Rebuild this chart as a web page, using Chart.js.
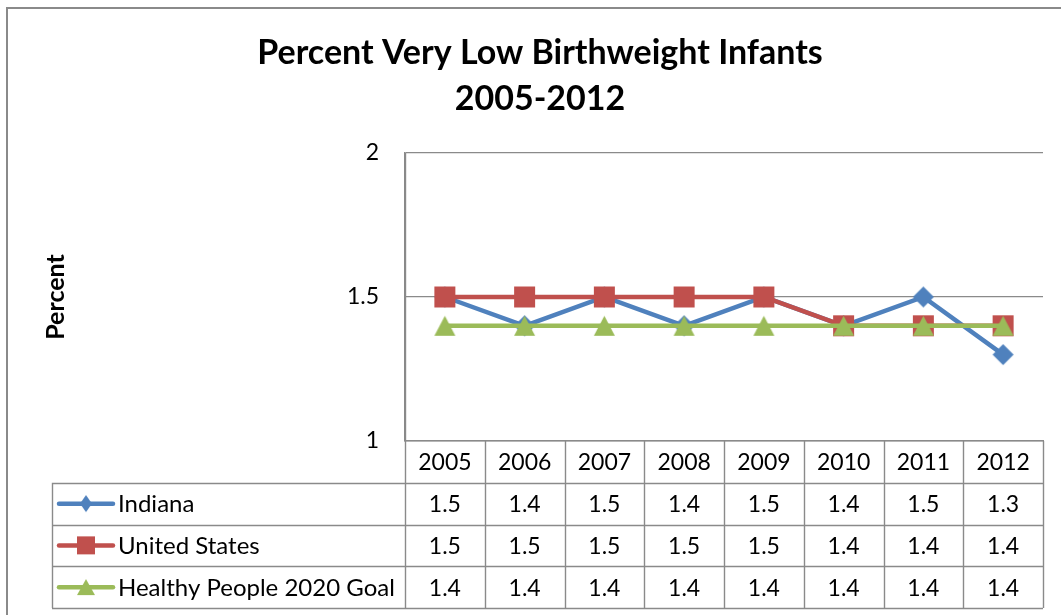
<!DOCTYPE html>
<html>
<head>
<meta charset="utf-8">
<script src="https://cdn.jsdelivr.net/npm/chart.js@4/dist/chart.umd.min.js"></script>
<style>
  html, body { margin: 0; padding: 0; background: #fff; overflow: hidden; }
  #wrap { position: relative; width: 1061px; height: 615px; }
</style>
</head>
<body>
<div id="wrap"><canvas id="c" width="1061" height="615"></canvas></div>
<script>
// Chart data
const years = ['2005', '2006', '2007', '2008', '2009', '2010', '2011', '2012'];
const indiana = [1.5, 1.4, 1.5, 1.4, 1.5, 1.4, 1.5, 1.3];
const unitedStates = [1.5, 1.5, 1.5, 1.5, 1.5, 1.4, 1.4, 1.4];
const healthyPeopleGoal = [1.4, 1.4, 1.4, 1.4, 1.4, 1.4, 1.4, 1.4];
const seriesNames = ['Indiana', 'United States', 'Healthy People 2020 Goal'];
const yTickValues = [1, 1.5, 2];
const titleLines = ['Percent Very Low Birthweight Infants', '2005-2012'];
const yAxisTitle = 'Percent';

const FONT = 'Lato, "Open Sans", sans-serif';
const GRID = '#8a8a8a';
const BLUE = '#4F81BD', RED = '#C0504D', GREEN = '#9BBB59';

Chart.defaults.font.family = FONT;
Chart.defaults.color = '#000';

// Marker sprites: shapes centred in their own box
function sprite(kind, w, h, color) {
  const c = document.createElement('canvas');
  c.width = Math.ceil(w) + 2;
  c.height = Math.ceil(h) + 2;
  const g = c.getContext('2d');
  const cx = c.width / 2, cy = c.height / 2;
  g.fillStyle = color;
  g.beginPath();
  if (kind === 'diamond') {
    g.moveTo(cx, cy - h / 2); g.lineTo(cx + w / 2, cy);
    g.lineTo(cx, cy + h / 2); g.lineTo(cx - w / 2, cy);
  } else if (kind === 'square') {
    g.rect(cx - w / 2, cy - h / 2, w, h);
  } else {
    g.moveTo(cx, cy - h / 2); g.lineTo(cx + w / 2, cy + h / 2);
    g.lineTo(cx - w / 2, cy + h / 2);
  }
  g.closePath();
  g.fill();
  return c;
}

const series = [indiana, unitedStates, healthyPeopleGoal];
const colors = [BLUE, RED, GREEN];
const plotMarkers = [
  sprite('diamond', 21, 21, BLUE),
  sprite('square', 21, 21, RED),
  sprite('triangle', 21, 20, GREEN)
];
const keyMarkers = [
  sprite('diamond', 12, 17, BLUE),
  sprite('square', 18, 18, RED),
  sprite('triangle', 18, 16, GREEN)
];

// Outer frame of the chart object
const framePlugin = {
  id: 'frame',
  beforeDraw(chart) {
    const ctx = chart.ctx;
    ctx.save();
    ctx.fillStyle = '#fff';
    ctx.fillRect(0, 0, chart.width, chart.height);
    ctx.strokeStyle = GRID;
    ctx.lineWidth = 2;
    ctx.strokeRect(7, 8, chart.width + 20, chart.height + 20);
    ctx.restore();
  }
};

// Data table under the plot: year header, legend keys and values per series
const dataTablePlugin = {
  id: 'dataTable',
  afterDraw(chart) {
    const { ctx, chartArea: area, scales: { x } } = chart;
    const rowH = 41.75;
    const keyLeft = 52;
    const top = area.bottom;
    const bottom = top + rowH * 4;
    const n = chart.data.labels.length;

    // column edges from the category scale
    const edges = [area.left];
    for (let i = 0; i < n - 1; i++) {
      edges.push((x.getPixelForValue(i) + x.getPixelForValue(i + 1)) / 2);
    }
    edges.push(area.right);

    ctx.save();
    ctx.strokeStyle = GRID;
    ctx.lineWidth = 1.4;
    ctx.beginPath();
    for (let r = 1; r <= 4; r++) {
      const y = Math.round(top + rowH * r) + 0.5;
      ctx.moveTo(keyLeft, y);
      ctx.lineTo(area.right, y);
    }
    edges.forEach((ex, i) => {
      const xx = Math.round(ex) + 0.5;
      ctx.moveTo(xx, i === 0 ? area.top : top);
      ctx.lineTo(xx, bottom);
    });
    ctx.moveTo(keyLeft + 0.5, top + rowH);
    ctx.lineTo(keyLeft + 0.5, bottom);
    ctx.stroke();

    // header and values
    ctx.fillStyle = '#000';
    ctx.font = '23px ' + FONT;
    ctx.textAlign = 'center';
    ctx.textBaseline = 'middle';
    chart.data.labels.forEach((lab, i) => {
      ctx.fillText(lab, x.getPixelForValue(i), top + rowH / 2 + 1);
    });
    chart.data.datasets.forEach((ds, r) => {
      const cy = top + rowH * (r + 1.5) + 1;
      ds.data.forEach((v, i) => {
        ctx.fillText(v.toFixed(1), x.getPixelForValue(i), cy);
      });
    });

    // legend keys
    ctx.textAlign = 'left';
    ctx.font = '24px ' + FONT;
    chart.data.datasets.forEach((ds, r) => {
      const cy = top + rowH * (r + 1.5);
      ctx.strokeStyle = ds.borderColor;
      ctx.lineWidth = 4.5;
      ctx.lineCap = 'round';
      ctx.beginPath();
      ctx.moveTo(59, cy);
      ctx.lineTo(113, cy);
      ctx.stroke();
      Chart.helpers.drawPoint(ctx, {
        pointStyle: keyMarkers[r],
        radius: 10,
        rotation: 0,
        borderWidth: 0
      }, 86, cy);
      ctx.fillStyle = '#000';
      ctx.fillText(ds.label, 118, cy + 1);
    });
    ctx.restore();
  }
};

new Chart(document.getElementById('c'), {
  type: 'line',
  data: {
    labels: years,
    datasets: series.map((vals, i) => ({
      label: seriesNames[i],
      data: vals,
      borderColor: colors[i],
      backgroundColor: colors[i],
      pointBackgroundColor: colors[i],
      pointBorderColor: colors[i],
      pointStyle: plotMarkers[i],
      pointRadius: 11,
      pointBorderWidth: 0,
      borderWidth: 4.5,
      tension: 0,
      fill: false,
      order: 2 - i
    }))
  },
  options: {
    responsive: false,
    devicePixelRatio: 1,
    animation: false,
    events: [],
    layout: { padding: { left: 19, right: 0, top: 0, bottom: 0 } },
    plugins: {
      legend: { display: false },
      tooltip: { enabled: false },
      title: {
        display: true,
        text: titleLines,
        color: '#000',
        font: { size: 34, weight: 'bold', lineHeight: 46 / 34 },
        padding: { top: 30, bottom: 31 }
      }
    },
    scales: {
      x: {
        type: 'category',
        offset: true,
        ticks: { display: false },
        grid: { display: false, drawTicks: false },
        border: { display: true, color: GRID, width: 1.4 },
        afterFit(scale) { scale.height = 174; }
      },
      y: {
        min: 1,
        max: 2,
        afterBuildTicks(scale) { scale.ticks = yTickValues.map(v => ({ value: v })); },
        ticks: {
          padding: 26,
          font: { size: 23 },
          color: '#000',
          callback: v => String(v)
        },
        grid: { color: GRID, lineWidth: 1.2, drawTicks: false },
        border: { display: true, color: GRID, width: 1.4 },
        title: {
          display: true,
          text: yAxisTitle,
          color: '#000',
          font: { size: 25, weight: 'bold', lineHeight: 1.2 },
          padding: { top: 22, bottom: 0 }
        },
        afterFit(scale) { scale.width = 386; }
      },
      spacer: {
        position: 'right',
        display: true,
        ticks: { display: false },
        grid: { display: false, drawTicks: false },
        border: { display: false },
        afterFit(scale) { scale.width = 18; }
      }
    }
  },
  plugins: [framePlugin, dataTablePlugin]
});
</script>
</body>
</html>
